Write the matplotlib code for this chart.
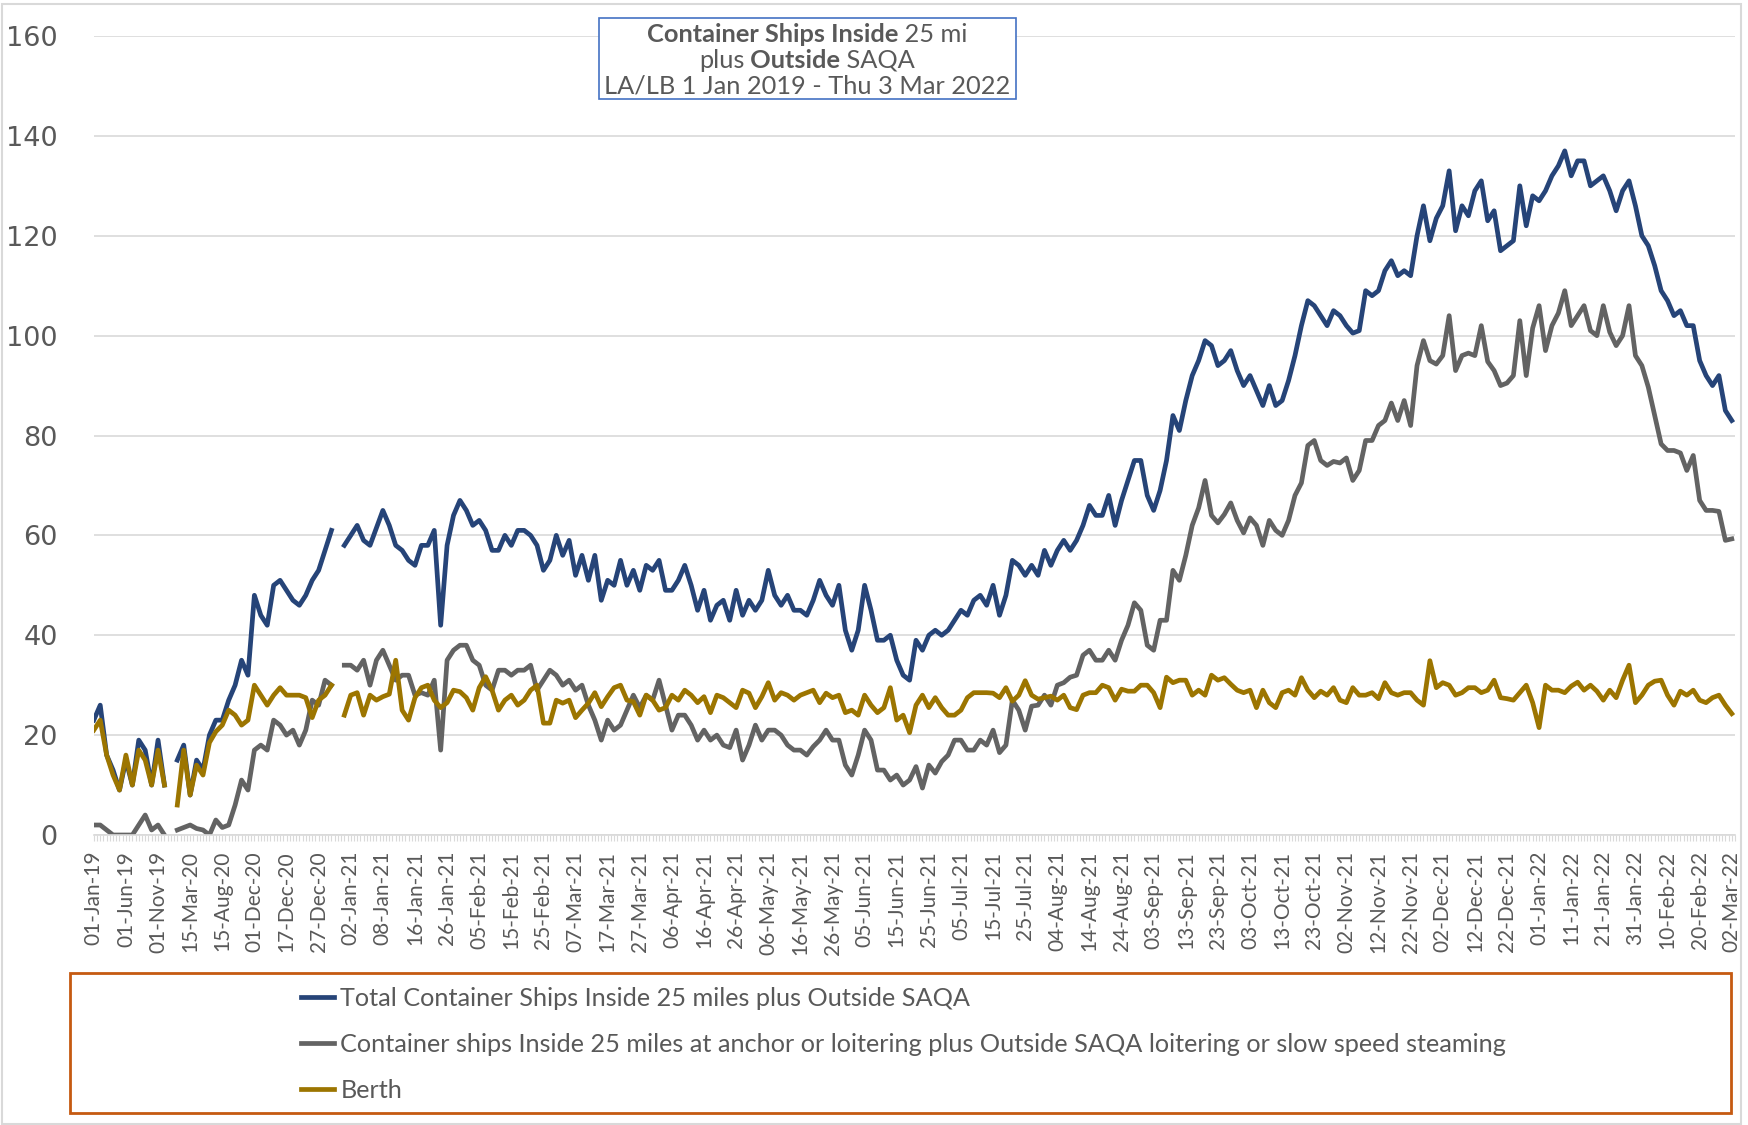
import numpy as np
import matplotlib
matplotlib.use("Agg")
import matplotlib.pyplot as plt
from matplotlib.patches import Rectangle

nan = np.nan

# category labels, one every 10 days of data
date_labels = ["01-Jan-19", "01-Jun-19", "01-Nov-19", "15-Mar-20", "15-Aug-20", "01-Dec-20",
               "17-Dec-20", "27-Dec-20", "02-Jan-21", "08-Jan-21", "16-Jan-21", "26-Jan-21",
               "05-Feb-21", "15-Feb-21", "25-Feb-21", "07-Mar-21", "17-Mar-21", "27-Mar-21",
               "06-Apr-21", "16-Apr-21", "26-Apr-21", "06-May-21", "16-May-21", "26-May-21",
               "05-Jun-21", "15-Jun-21", "25-Jun-21", "05-Jul-21", "15-Jul-21", "25-Jul-21",
               "04-Aug-21", "14-Aug-21", "24-Aug-21", "03-Sep-21", "13-Sep-21", "23-Sep-21",
               "03-Oct-21", "13-Oct-21", "23-Oct-21", "02-Nov-21", "12-Nov-21", "22-Nov-21",
               "02-Dec-21", "12-Dec-21", "22-Dec-21", "01-Jan-22", "11-Jan-22", "21-Jan-22",
               "31-Jan-22", "10-Feb-22", "20-Feb-22", "02-Mar-22"]

# values read every second category
total_ships = [
    23, 26, 16, 13, 9, 15, 10, 19, 17, 10,
    19, 10, nan, 15, 18, 8, 15, 13, 20, 23,
    23, 27, 30, 35, 32, 48, 44, 42, 50, 51,
    49, 47, 46, 48, 51, 53, 57, 61, nan, 58,
    60, 62, 59, 58, 61.5, 65, 62, 58, 57, 55,
    54, 58, 58, 61, 42, 58, 64, 67, 65, 62,
    63, 61, 57, 57, 60, 58, 61, 61, 60, 58,
    53, 55, 60, 56, 59, 52, 56, 51, 56, 47,
    51, 50, 55, 50, 53, 49, 54, 53, 55, 49,
    49, 51, 54, 50, 45, 49, 43, 46, 47, 43,
    49, 44, 47, 45, 47, 53, 48, 46, 48, 45,
    45, 44, 47, 51, 48, 46, 50, 41, 37, 41,
    50, 45, 39, 39, 40, 35, 32, 31, 39, 37,
    40, 41, 40, 41, 43, 45, 44, 47, 48, 46,
    50, 44, 48, 55, 54, 52, 54, 52, 57, 54,
    57, 59, 57, 59, 62, 66, 64, 64, 68, 62,
    67, 71, 75, 75, 68, 65, 69, 75, 84, 81,
    87, 92, 95, 99, 98, 94, 95, 97, 93, 90,
    92, 89, 86, 90, 86, 87, 91, 96, 102, 107,
    106, 104, 102, 105, 104, 102, 100.5, 101, 109, 108,
    109, 113, 115, 112, 113, 112, 120, 126, 119, 123.5,
    126, 133, 121, 126, 124, 129, 131, 123, 125, 117,
    118, 119, 130, 122, 128, 127, 129, 132, 134, 137,
    132, 135, 135, 130, 131, 132, 129, 125, 129, 131,
    126, 120, 118, 114, 109, 107, 104, 105, 102, 102,
    95, 92, 90, 92, 85, 83]

anchor_ships = [
    2, 2, 1, 0, 0, 0, 0, 2, 4, 1,
    2, 0, nan, 1, 1.5, 2, 1.3, 1, 0, 3,
    1.5, 2, 6, 11, 9, 17, 18, 17, 23, 22,
    20, 21, 18, 21, 27, 26, 31, 30, nan, 34,
    34, 33, 35, 30, 35, 37, 34, 31, 32, 32,
    28, 28.5, 28, 31, 17, 35, 37, 38, 38, 35,
    34, 30, 29, 33, 33, 32, 33, 33, 34, 29,
    31, 33, 32, 30, 31, 29, 30, 26, 23, 19,
    23, 21, 22, 25, 28, 25.5, 28, 27, 31, 26,
    21, 24, 24, 22, 19, 21, 19, 20, 18, 17.5,
    21, 15, 18, 22, 19, 21, 21, 20, 18, 17,
    17, 16, 17.7, 19, 21, 19, 19, 14, 12, 16,
    21, 19, 13, 13, 11, 12, 10, 11, 13.7, 9.4,
    14, 12.4, 14.7, 16, 19, 19, 17, 17, 19, 18,
    21, 16.5, 18, 27, 25, 21, 25.8, 26, 28, 26,
    30, 30.5, 31.6, 32, 36, 37, 35, 35, 37, 35,
    39, 42, 46.5, 45, 38, 37, 43, 43, 53, 51,
    56, 62, 65.5, 71, 64, 62.5, 64.2, 66.5, 63, 60.5,
    63.5, 62, 58, 63, 61, 60, 63, 68, 70.5, 78,
    79, 75, 74, 74.8, 74.5, 75.5, 71, 73, 79, 79,
    82, 83, 86.5, 83, 87, 82, 94, 99, 95, 94.3,
    96, 104, 93, 96, 96.5, 96, 102, 94.8, 93, 90,
    90.5, 92, 103, 92, 101.5, 106, 97, 102, 104.5, 109,
    102, 104, 106, 101, 100, 106, 100.7, 98, 100, 106,
    96, 94, 89.7, 84, 78.3, 77, 77, 76.5, 73, 76,
    67, 65, 65, 64.8, 59, 59.3]

berth = [
    21, 23, 16, 12, 9, 16, 10, 17, 15, 10,
    17, 10, nan, 6, 17, 8, 14, 12, 18.5, 20.7,
    22, 25, 24, 22, 23, 30, 28, 26, 28, 29.5,
    28, 28, 28, 27.5, 23.5, 27, 28, 30, nan, 24,
    28, 28.5, 24, 28, 27, 27.7, 28.2, 35, 25, 23,
    27.5, 29.5, 30, 27, 25.5, 26.5, 29, 28.7, 27.5, 25,
    29.5, 31.7, 29, 25, 27, 28, 26, 27, 29, 30,
    22.4, 22.4, 27, 26.4, 27, 23.5, 25, 26.4, 28.5, 25.7,
    27.7, 29.5, 30, 27, 26.7, 24, 28, 27, 25, 25.5,
    28, 27, 29, 28, 26.5, 27.7, 24.5, 28, 27.5, 26.5,
    25.5, 29, 28.4, 25.5, 27.7, 30.5, 27, 28.5, 28, 27,
    28, 28.5, 29, 26.5, 28.4, 27.5, 28, 24.5, 25, 24,
    28, 26, 24.5, 25.5, 29.5, 23, 24, 20.5, 26, 28,
    25.5, 27.5, 25.5, 24, 24, 25, 27.5, 28.5, 28.5, 28.5,
    28.4, 27.5, 29.5, 26.8, 28, 30.9, 28, 27.2, 27.5, 27.8,
    27, 28, 25.5, 25.1, 28, 28.5, 28.5, 30, 29.5, 27,
    29.2, 28.8, 28.8, 30, 30, 28.5, 25.5, 31.6, 30.5, 31,
    31, 28, 29, 28, 32, 31, 31.5, 30.2, 29, 28.5,
    29, 25.5, 29, 26.5, 25.5, 28.5, 29, 28, 31.5, 29,
    27.5, 28.8, 28, 29.5, 27, 26.5, 29.5, 28, 28, 28.5,
    27.3, 30.5, 28.5, 28, 28.5, 28.5, 27, 26, 34.9, 29.5,
    30.5, 30, 28, 28.5, 29.5, 29.5, 28.5, 29, 31, 27.5,
    27.3, 27, 28.5, 30, 26.5, 21.5, 30, 29, 29, 28.5,
    29.8, 30.6, 29, 30, 28.8, 27, 29, 27.5, 31, 34,
    26.5, 28, 30, 30.8, 31, 28, 26, 28.8, 28, 29,
    27, 26.5, 27.5, 28, 26, 24.3]

series_names = ["Total Container Ships Inside 25 miles plus Outside SAQA",
                "Container ships Inside 25 miles at anchor or loitering plus Outside SAQA loitering or slow speed steaming",
                "Berth"]
colors = ["#264478", "#636363", "#9C7500"]

W, H = 1748, 1125
fig = plt.figure(figsize=(W / 100, H / 100), dpi=100)
ax = fig.add_axes([93.8 / W, 1 - 835 / H, (1735 - 93.8) / W, (835 - 36) / H])

n_cats = 512
x = np.arange(len(total_ships)) * 2
for vals, name, c in zip([total_ships, anchor_ships, berth], series_names, colors):
    ax.plot(x, vals, color=c, lw=3.4, label=name, solid_joinstyle="round")

ax.set_xlim(0, n_cats - 1)
ax.set_ylim(0, 160)
ax.set_yticks(np.arange(0, 161, 20))
ax.yaxis.grid(True, color="#D9D9D9", lw=1.2)
ax.set_axisbelow(True)
for s in ["top", "right", "left"]:
    ax.spines[s].set_visible(False)
ax.spines["bottom"].set_color("#D9D9D9")
ax.spines["bottom"].set_linewidth(1.2)

ax.set_xticks(np.arange(0, n_cats, 10))
ax.set_xticklabels(date_labels, rotation=90, family="Lato", fontsize=15, color="#595959")
ax.set_xticks(np.arange(0, n_cats), minor=True)
ax.tick_params(axis="x", which="both", length=4.5, width=0.8, color="#D9D9D9", pad=7)
ax.tick_params(axis="y", length=0, pad=26, labelsize=19.5, labelcolor="#595959")

# title box with mixed bold text
fig.add_artist(Rectangle((599 / W, 1 - 99 / H), (1016 - 599) / W, 81 / H, transform=fig.transFigure,
                         facecolor="white", edgecolor="#4472C4", lw=1.2))
renderer = fig.canvas.get_renderer()
title_lines = [[("Container Ships Inside", "bold"), (" 25 mi", "normal")],
               [("plus", "normal"), (" Outside", "bold"), (" SAQA", "normal")],
               [("LA/LB 1 Jan 2019 - Thu 3 Mar 2022", "normal")]]
for row, parts in enumerate(title_lines):
    yc = 1 - (34.5 + 25.6 * row) / H
    texts = [fig.text(0, yc, s, fontsize=18.3, fontweight=w, family="Lato", color="#595959",
                      va="center", ha="left") for s, w in parts]
    widths = [t.get_window_extent(renderer).width for t in texts]
    pos = 807 - sum(widths) / 2
    for t, w in zip(texts, widths):
        t.set_x(pos / W)
        pos += w

# legend box
fig.add_artist(Rectangle((70 / W, 1 - 1113 / H), 1661 / W, 140 / H, transform=fig.transFigure,
                         facecolor="none", edgecolor="#C55A11", lw=2))
leg = fig.legend(loc="upper left", bbox_to_anchor=(301 / W, 1 - 987 / H), frameon=False,
                 prop={"family": "Lato", "size": 18.2}, labelcolor="#595959",
                 handlelength=1.32, handletextpad=0.24, labelspacing=0.9, borderpad=0,
                 borderaxespad=0)

# chart area border
fig.add_artist(Rectangle((1.5 / W, 1.5 / H), (1741 - 1.5) / W, (1121 - 1.5) / H,
                         transform=fig.transFigure, facecolor="none", edgecolor="#D9D9D9", lw=1.5))

fig.savefig("out.png", dpi=100)
